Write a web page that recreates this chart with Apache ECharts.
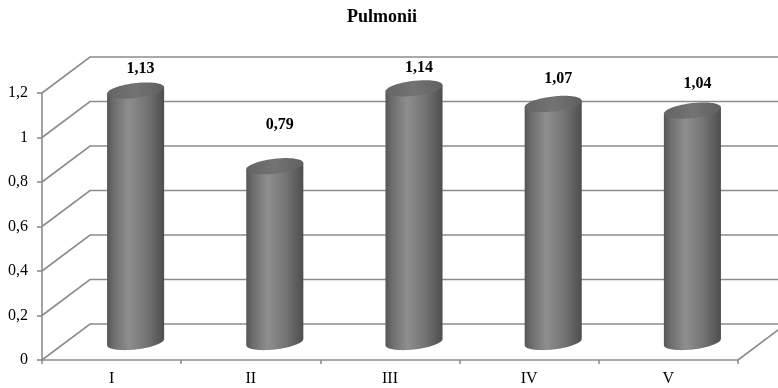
<!DOCTYPE html>
<html>
<head>
<meta charset="utf-8">
<script src="https://cdn.jsdelivr.net/npm/echarts@6/dist/echarts.min.js"></script>
<style>
html,body{margin:0;padding:0;background:#fff;}
#chart{width:778px;height:388px;}
</style>
</head>
<body>
<div id="chart"></div>
<script>
// ---- data ----
var titleText = 'Pulmonii';
var categories = ['I', 'II', 'III', 'IV', 'V'];
var values = [1.13, 0.79, 1.14, 1.07, 1.04];
var yTicks = [0, 0.2, 0.4, 0.6, 0.8, 1, 1.2];

// ---- style constants ----
var FONT = '"Liberation Serif", "Times New Roman", serif';
var DEPTH_X = 48, DEPTH_Y = 36;
var GRID_COLOR = '#8c8c8c';
var SHEAR = 0.11;

function fmt(v) { return String(Math.round(v * 100) / 100).replace('.', ','); }

var chart = echarts.init(document.getElementById('chart'), null, {renderer: 'canvas'});

function wallRender(params, api) {
  var v = api.value(1);
  var bw = api.size([1, 0])[0];
  var c0 = api.coord([0, v]);
  var cN = api.coord([categories.length - 1, v]);
  var xl = c0[0] - bw / 2, xr = cN[0] + bw / 2, y = c0[1];
  var style = {stroke: GRID_COLOR, lineWidth: 1.6, fill: null};
  var children = [
    {type: 'polyline', shape: {points: [[xl, y], [xl + DEPTH_X, y - DEPTH_Y], [xr + DEPTH_X, y - DEPTH_Y]]}, style: style}
  ];
  if (v === 0) {
    children.push({type: 'line', shape: {x1: xr, y1: y, x2: xr + DEPTH_X, y2: y - DEPTH_Y}, style: style});
  }
  return {type: 'group', children: children};
}

function ellPt(cx, cy, rx, ry, t) {
  var c = Math.cos(t), s = Math.sin(t);
  return [cx + rx * c, cy + ry * s - SHEAR * rx * c];
}

function cylRender(params, api) {
  var i = api.value(0), v = api.value(1);
  var bw = api.size([1, 0])[0];
  var top = api.coord([i, v]);
  var bot = api.coord([i, 0]);
  var cx = top[0] + DEPTH_X / 2;
  var ty = top[1] - DEPTH_Y / 2;
  var by = bot[1] - DEPTH_Y / 2;
  var rx = bw * 0.205, ry = 7.5;
  var N = 48, k;
  // body: left side, lower half of bottom ellipse, right side
  var body = [];
  body.push(ellPt(cx, ty, rx, ry, Math.PI));
  for (k = 0; k <= N; k++) {
    body.push(ellPt(cx, by, rx, ry, Math.PI - Math.PI * k / N));
  }
  body.push(ellPt(cx, ty, rx, ry, 0));
  var topPts = [];
  for (k = 0; k < 2 * N; k++) topPts.push(ellPt(cx, ty, rx, ry, Math.PI * k / N));

  var grad = new echarts.graphic.LinearGradient(0, 0, 1, 0, [
    {offset: 0, color: '#555555'},
    {offset: 0.12, color: '#6e6e6e'},
    {offset: 0.38, color: '#8e8e8e'},
    {offset: 0.7, color: '#737373'},
    {offset: 1, color: '#4e4e4e'}
  ]);
  var topGrad = new echarts.graphic.LinearGradient(0, 0, 1, 0, [
    {offset: 0, color: '#646464'},
    {offset: 0.5, color: '#737373'},
    {offset: 1, color: '#606060'}
  ]);
  var labelY = by - 0.735 * (by - ty) - 88;
  return {
    type: 'group',
    children: [
      {type: 'polygon', shape: {points: body}, style: {fill: grad}},
      {type: 'polygon', shape: {points: topPts}, style: {fill: topGrad}},
      {type: 'text', x: cx + 5, y: labelY, style: {text: fmt(v), font: 'bold 16px ' + FONT, fill: '#000', align: 'center', verticalAlign: 'middle'}}
    ]
  };
}

var option = {
  backgroundColor: '#ffffff',
  animation: false,
  title: {
    text: titleText,
    left: 342,
    top: 3,
    textStyle: {fontFamily: FONT, fontWeight: 'bold', fontSize: 18, color: '#000'}
  },
  grid: {left: 42, right: 40, top: 93, bottom: 28, containLabel: false},
  xAxis: {
    type: 'category',
    data: categories,
    axisLine: {show: true, lineStyle: {color: GRID_COLOR, width: 1.6}},
    axisTick: {show: true, length: 4, lineStyle: {color: GRID_COLOR, width: 1.6}},
    axisLabel: {fontFamily: FONT, fontSize: 16, color: '#000', margin: 11},
    splitLine: {show: false}
  },
  yAxis: {
    type: 'value',
    min: 0, max: 1.2, interval: 0.2,
    axisLine: {show: true, lineStyle: {color: GRID_COLOR, width: 1.6}},
    axisTick: {show: true, length: 5, lineStyle: {color: GRID_COLOR, width: 1.6}},
    axisLabel: {fontFamily: FONT, fontSize: 16, color: '#000', margin: 14, formatter: fmt},
    splitLine: {show: false}
  },
  series: [
    {
      type: 'custom',
      name: 'walls',
      z: 1,
      clip: false,
      renderItem: wallRender,
      encode: {x: 0, y: 1},
      data: yTicks.map(function (t) { return [0, t]; }),
      silent: true
    },
    {
      type: 'custom',
      name: 'Pulmonii',
      z: 3,
      clip: false,
      renderItem: cylRender,
      encode: {x: 0, y: 1},
      data: values.map(function (v, i) { return [i, v]; })
    }
  ]
};
chart.setOption(option);
</script>
</body>
</html>
